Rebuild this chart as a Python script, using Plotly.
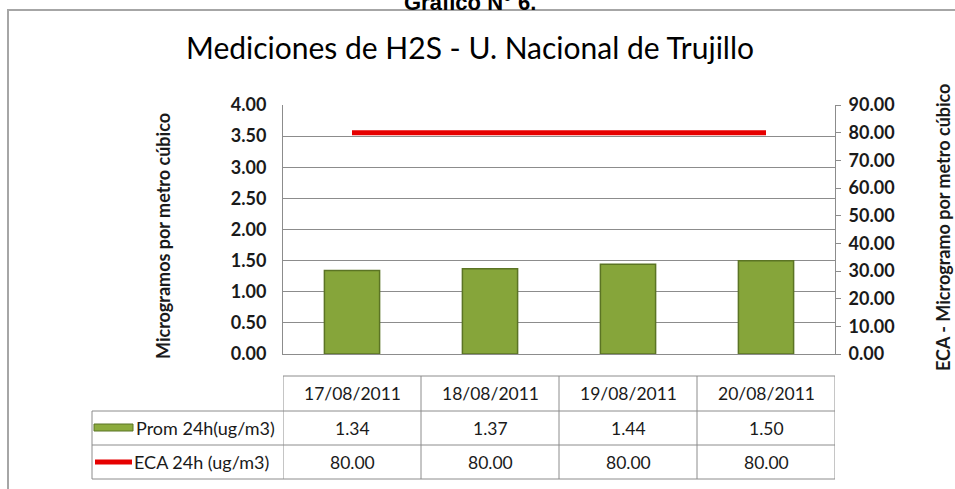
import plotly.graph_objects as go

fechas = ['17/08/2011', '18/08/2011', '19/08/2011', '20/08/2011']
prom_24h = [1.34, 1.37, 1.44, 1.50]
eca_24h = [80.00, 80.00, 80.00, 80.00]
serie_prom = 'Prom 24h(ug/m3)'
serie_eca = 'ECA 24h (ug/m3)'

W, H = 955, 489
L, R, T, B = 283, 835, 105, 354  # plot area in pixels


def px(x):
    return (x - L) / (R - L)


def py(y):
    return (B - y) / (B - T)


GRID = '#8c8c8c'
TXT = '#1a1a1a'
FONT = 'Lato'

traces = [
    go.Bar(
        name=serie_prom,
        x=fechas,
        y=prom_24h,
        width=0.4,
        marker=dict(color='#86a53a', line=dict(color='#5b7424', width=1.5)),
        yaxis='y',
    ),
    go.Scatter(
        name=serie_eca,
        x=fechas,
        y=eca_24h,
        mode='lines',
        line=dict(color='#e60000', width=5),
        yaxis='y2',
    ),
]

fig = go.Figure(data=traces)

shapes = []
annotations = []


def note(x, y, text, size, xref='paper', xanchor='center', yanchor='middle', **kw):
    annotations.append(dict(x=x, xref=xref, y=y, yref='paper', text=text, showarrow=False,
                            xanchor=xanchor, yanchor=yanchor,
                            font=dict(family=kw.pop('family', FONT), size=size,
                                      color=kw.pop('color', TXT), weight=kw.pop('weight', 'normal')),
                            **kw))


# outer frame
shapes.append(dict(type='rect', xref='paper', yref='paper',
                   x0=px(8), x1=px(962), y0=py(10), y1=py(500),
                   line=dict(color='#a6a6a6', width=2)))

# data table lines
row_lines = [376, 411, 445, 479]
shapes.append(dict(type='line', xref='x', yref='paper', x0=-0.5, x1=len(fechas) - 0.5,
                   y0=py(row_lines[0]), y1=py(row_lines[0]), line=dict(color=GRID, width=1)))
for yl in row_lines[1:]:
    shapes.append(dict(type='line', xref='paper', yref='paper', x0=px(92), x1=1,
                       y0=py(yl), y1=py(yl), line=dict(color=GRID, width=1)))
for i in range(len(fechas) + 1):
    shapes.append(dict(type='line', xref='x', yref='paper', x0=i - 0.5, x1=i - 0.5,
                       y0=py(row_lines[0]), y1=py(row_lines[-1]), line=dict(color=GRID, width=1)))
shapes.append(dict(type='line', xref='paper', yref='paper', x0=px(92), x1=px(92),
                   y0=py(row_lines[1]), y1=py(row_lines[-1]), line=dict(color=GRID, width=1)))

# legend keys inside table
shapes.append(dict(type='rect', xref='paper', yref='paper', x0=px(94), x1=px(133),
                   y0=py(431), y1=py(424), fillcolor='#8cab3e',
                   line=dict(color='#5b7424', width=1)))
shapes.append(dict(type='line', xref='paper', yref='paper', x0=px(95), x1=px(132),
                   y0=py(462), y1=py(462), line=dict(color='#e60000', width=5)))

row_centers = [393.5, 428, 462]
for f, p, e in zip(fechas, prom_24h, eca_24h):
    note(f, py(row_centers[0]), f, 17.5, xref='x')
    note(f, py(row_centers[1]), f'{p:.2f}', 17.5, xref='x')
    note(f, py(row_centers[2]), f'{e:.2f}', 17.5, xref='x')

note(px(134), py(row_centers[1]), serie_prom, 18, xanchor='left')
note(px(132), py(row_centers[2]), serie_eca, 18, xanchor='left')

# titles
note(px(470), py(17), '<b>Gráfico N° 6.</b>', 22, yanchor='bottom',
     family='Liberation Sans', color='black')
note(px(470), py(47), 'Mediciones de H2S - U. Nacional de Trujillo', 30, color='black')
note(px(163), py(236), 'Microgramos por metro cúbico', 18, textangle=-90, weight='bold')
note(px(943), py(228), 'ECA - Microgramo por metro cúbico', 18, textangle=-90, weight='bold')

fig.update_layout(
    width=W, height=H,
    margin=dict(l=L, r=W - R, t=T, b=H - B, pad=0),
    paper_bgcolor='white', plot_bgcolor='white',
    showlegend=False,
    xaxis=dict(type='category', range=[-0.5, len(fechas) - 0.5], showticklabels=False,
               showline=True, linecolor=GRID, linewidth=1, showgrid=False, ticks=''),
    yaxis=dict(range=[0, 4], dtick=0.5, tickformat='.2f', showgrid=True, gridcolor=GRID,
               gridwidth=1, showline=True, linecolor=GRID, linewidth=1, ticks='',
               ticklabelstandoff=12, zeroline=False,
               tickfont=dict(family=FONT, size=18, color=TXT, weight='bold')),
    yaxis2=dict(range=[0, 90], dtick=10, tickformat='.2f', overlaying='y', side='right',
                showgrid=False, showline=True, linecolor=GRID, linewidth=1, ticks='outside',
                ticklen=5, tickcolor=GRID, ticklabelstandoff=4, zeroline=False,
                tickfont=dict(family=FONT, size=18, color=TXT, weight='bold')),
    shapes=shapes,
    annotations=annotations,
)

fig.write_html('out.html', config={'displayModeBar': False},
               post_script="document.body.style.margin='0px';")
